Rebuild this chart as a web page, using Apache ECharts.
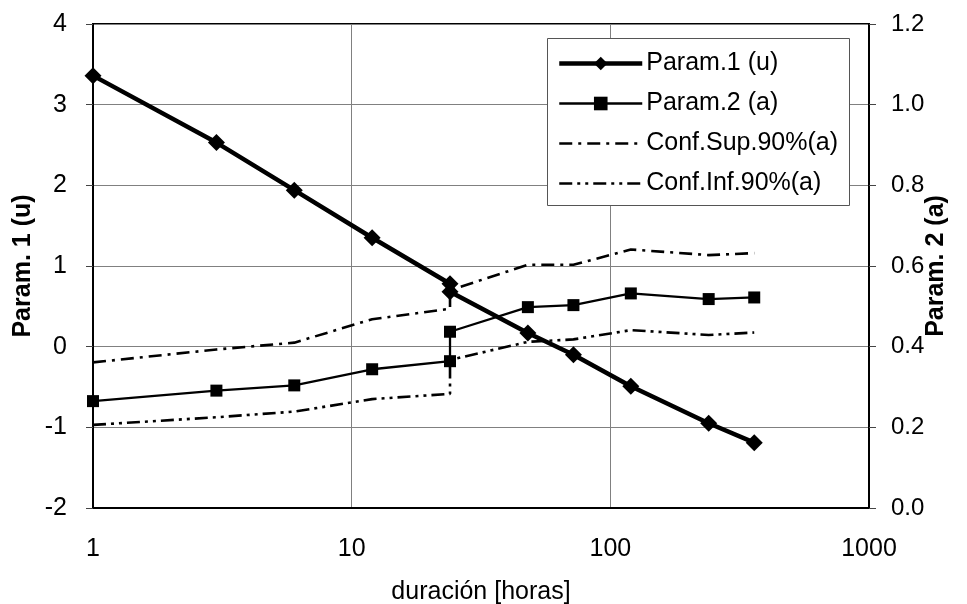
<!DOCTYPE html>
<html>
<head>
<meta charset="utf-8">
<script src="https://cdn.jsdelivr.net/npm/echarts@6/dist/echarts.min.js"></script>
<style>
html,body{margin:0;padding:0;background:#fff;}
#chart{width:967px;height:604px;}
</style>
</head>
<body>
<div id="chart"></div>
<script>
// Data
const hours   = [1, 3, 6, 12, 24, 24, 48, 72, 120, 240, 360];
const param1  = [3.36, 2.53, 1.94, 1.35, 0.78, 0.68, 0.17, -0.10, -0.49, -0.95, -1.19];
const param2  = [0.265, 0.291, 0.304, 0.344, 0.364, 0.437, 0.498, 0.503, 0.532, 0.518, 0.522];
const confSup = [0.361, 0.393, 0.410, 0.468, 0.494, 0.540, 0.603, 0.603, 0.641, 0.627, 0.632];
const confInf = [0.206, 0.225, 0.239, 0.270, 0.283, 0.367, 0.412, 0.418, 0.441, 0.429, 0.435];
const seriesNames = ['Param.1 (u)', 'Param.2 (a)', 'Conf.Sup.90%(a)', 'Conf.Inf.90%(a)'];
const xTicks = [1, 10, 100, 1000];
const leftTicks = [-2, -1, 0, 1, 2, 3, 4];
const rightTicks = [0.0, 0.2, 0.4, 0.6, 0.8, 1.0, 1.2];
const xTitle = 'duración [horas]';
const leftTitle = 'Param. 1 (u)';
const rightTitle = 'Param. 2 (a)';

const pair = (ys) => hours.map((h, i) => [h, ys[i]]);
const FONT = 'Liberation Sans, Arial, sans-serif';
const FS = 25;

const chart = echarts.init(document.getElementById('chart'), null, {renderer: 'canvas'});
chart.setOption({
  backgroundColor: '#fff',
  animation: false,
  textStyle: {fontFamily: FONT, color: '#000'},
  grid: {left: 93, right: 98, top: 24, bottom: 96, containLabel: false, outerBoundsMode: 'none',
         show: true, borderColor: '#000', borderWidth: 2, backgroundColor: 'transparent'},
  graphic: [{
    type: 'rect', left: 547, top: 38, shape: {width: 302, height: 167},
    style: {fill: '#fff', stroke: '#555', lineWidth: 1}, z: 5
  }],
  legend: {
    orient: 'vertical', left: 547, top: 38, padding: [13, 8, 8, 10],
    itemWidth: 83, itemHeight: 17, itemGap: 15, z: 10,
    lineStyle: {width: 'inherit'},
    textStyle: {fontSize: FS, fontFamily: FONT, color: '#000', padding: [0, 0, 0, -1]},
    data: [
      {name: seriesNames[0]},
      {name: seriesNames[1]},
      {name: seriesNames[2], itemStyle: {opacity: 0}},
      {name: seriesNames[3], itemStyle: {opacity: 0}}
    ]
  },
  xAxis: {
    type: 'log', logBase: 10, min: xTicks[0], max: xTicks[xTicks.length - 1],
    name: xTitle, nameLocation: 'middle', nameGap: 72, nameMoveOverlap: false,
    nameTextStyle: {fontSize: FS, fontFamily: FONT, color: '#000'},
    axisLine: {show: true, onZero: false, lineStyle: {color: '#000', width: 2}},
    axisTick: {show: false},
    axisLabel: {fontSize: FS, color: '#000', margin: 29, fontFamily: FONT, formatter: v => String(Math.round(v))},
    splitLine: {show: true, lineStyle: {color: '#808080', width: 1}},
    minorSplitLine: {show: false}
  },
  yAxis: [{
    type: 'value', min: leftTicks[0], max: leftTicks[leftTicks.length - 1], interval: 1,
    name: leftTitle, nameLocation: 'middle', nameGap: 57, nameRotate: 90, nameMoveOverlap: false,
    nameTextStyle: {fontSize: FS, fontWeight: 'bold', fontFamily: FONT, color: '#000'},
    axisLine: {show: true, onZero: false, lineStyle: {color: '#000', width: 2}},
    axisTick: {show: true, length: 7, lineStyle: {color: '#444', width: 1}},
    axisLabel: {fontSize: FS, color: '#000', margin: 26, fontFamily: FONT},
    splitLine: {show: true, lineStyle: {color: '#808080', width: 1}}
  }, {
    type: 'value', position: 'right', min: rightTicks[0], max: rightTicks[rightTicks.length - 1], interval: 0.2,
    name: rightTitle, nameLocation: 'middle', nameGap: 55, nameRotate: 90, nameMoveOverlap: false,
    nameTextStyle: {fontSize: FS, fontWeight: 'bold', fontFamily: FONT, color: '#000'},
    axisLine: {show: true, onZero: false, lineStyle: {color: '#000', width: 2}},
    axisTick: {show: true, length: 7, lineStyle: {color: '#444', width: 1}},
    axisLabel: {fontSize: 24, color: '#000', margin: 22, fontFamily: FONT, formatter: v => v.toFixed(1)},
    splitLine: {show: false}
  }],
  series: [{
    name: seriesNames[0], type: 'line', yAxisIndex: 0, data: pair(param1), z: 6,
    symbol: 'diamond', symbolSize: 17, showSymbol: true,
    lineStyle: {color: '#000', width: 4.5}, itemStyle: {color: '#000'}
  }, {
    name: seriesNames[1], type: 'line', yAxisIndex: 1, data: pair(param2), z: 5,
    symbol: 'rect', symbolSize: 12,
    lineStyle: {color: '#000', width: 2.3}, itemStyle: {color: '#000'}
  }, {
    name: seriesNames[2], type: 'line', yAxisIndex: 1, data: pair(confSup), z: 4,
    symbol: 'none',
    lineStyle: {color: '#000', width: 2.6, type: [13, 6, 3, 6]}, itemStyle: {color: '#000'}
  }, {
    name: seriesNames[3], type: 'line', yAxisIndex: 1, data: pair(confInf), z: 4,
    symbol: 'none',
    lineStyle: {color: '#000', width: 2.6, type: [13, 5, 3, 5, 3, 5]}, itemStyle: {color: '#000'}
  }]
});
</script>
</body>
</html>
